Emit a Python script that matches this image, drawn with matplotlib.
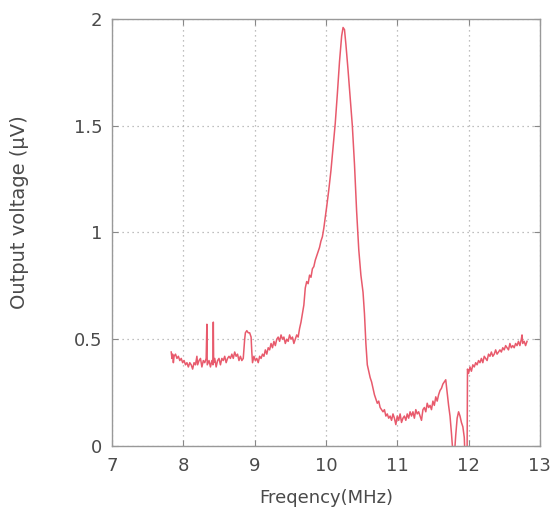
import matplotlib.pyplot as plt
from matplotlib.ticker import FuncFormatter

plt.rcParams['font.family'] = ['DejaVu Sans']

# Spectrum readings (MHz, uV)
freq = [7.83, 7.84, 7.85, 7.86, 7.87, 7.89, 7.91, 7.93, 7.95, 7.97, 7.99,
        8.01, 8.03, 8.05, 8.07, 8.09, 8.11, 8.13, 8.15, 8.17, 8.19, 8.20,
        8.22, 8.24, 8.26, 8.28, 8.30, 8.32, 8.33, 8.335, 8.36, 8.38, 8.40,
        8.415, 8.42, 8.425, 8.44, 8.46, 8.48, 8.50, 8.52, 8.54, 8.56, 8.58,
        8.60, 8.62, 8.64, 8.66, 8.68, 8.70, 8.72, 8.74, 8.76, 8.78, 8.80,
        8.82, 8.84, 8.86, 8.87, 8.89, 8.91, 8.93, 8.95, 8.96, 8.97, 8.99,
        9.01, 9.03, 9.05, 9.07, 9.09, 9.11, 9.13, 9.15, 9.17, 9.19, 9.21,
        9.23, 9.25, 9.27, 9.29, 9.31, 9.33, 9.35, 9.37, 9.39, 9.41, 9.43,
        9.45, 9.47, 9.49, 9.51, 9.53, 9.55, 9.57, 9.59, 9.61, 9.63, 9.65,
        9.67, 9.69, 9.71, 9.73, 9.75, 9.77, 9.79, 9.81, 9.83, 9.85, 9.87,
        9.89, 9.91, 9.93, 9.95, 9.97, 9.99, 10.01, 10.04, 10.07, 10.10,
        10.13, 10.16, 10.19, 10.22, 10.24, 10.26, 10.28, 10.31, 10.34,
        10.37, 10.40, 10.43, 10.46, 10.49, 10.52, 10.54, 10.56, 10.58,
        10.60, 10.62, 10.64, 10.66, 10.68, 10.70, 10.72, 10.74, 10.76,
        10.78, 10.80, 10.82, 10.84, 10.86, 10.88, 10.90, 10.92, 10.94,
        10.96, 10.98, 11.00, 11.02, 11.04, 11.06, 11.08, 11.10, 11.12,
        11.14, 11.16, 11.18, 11.20, 11.22, 11.24, 11.26, 11.28, 11.30,
        11.32, 11.34, 11.36, 11.38, 11.40, 11.42, 11.44, 11.46, 11.48,
        11.50, 11.52, 11.54, 11.56, 11.58, 11.60, 11.62, 11.64, 11.66,
        11.68, 11.70, 11.72, 11.74, 11.76, 11.78, 11.80, 11.82, 11.84,
        11.86, 11.88, 11.90, 11.92, 11.94, 11.95, 11.97, 11.98, 11.985,
        12.00, 12.02, 12.04, 12.06, 12.08, 12.10, 12.12, 12.14, 12.16,
        12.18, 12.20, 12.22, 12.24, 12.26, 12.28, 12.30, 12.32, 12.34,
        12.36, 12.38, 12.40, 12.42, 12.44, 12.46, 12.48, 12.50, 12.52,
        12.54, 12.56, 12.58, 12.60, 12.62, 12.64, 12.66, 12.68, 12.70,
        12.72, 12.74, 12.75, 12.76, 12.78, 12.80, 12.82]

volt = [0.44, 0.41, 0.43, 0.39, 0.42, 0.43, 0.41, 0.42, 0.40, 0.41, 0.39,
        0.40, 0.38, 0.39, 0.37, 0.39, 0.38, 0.36, 0.39, 0.38, 0.42, 0.38,
        0.40, 0.41, 0.37, 0.40, 0.39, 0.41, 0.57, 0.38, 0.40, 0.37, 0.40,
        0.38, 0.58, 0.39, 0.41, 0.37, 0.40, 0.41, 0.38, 0.41, 0.40, 0.42,
        0.39, 0.41, 0.42, 0.41, 0.43, 0.41, 0.44, 0.42, 0.43, 0.40, 0.42,
        0.40, 0.41, 0.50, 0.53, 0.54, 0.53, 0.53, 0.51, 0.44, 0.39, 0.42,
        0.40, 0.41, 0.39, 0.42, 0.41, 0.43, 0.42, 0.45, 0.43, 0.46, 0.45,
        0.48, 0.46, 0.49, 0.47, 0.50, 0.51, 0.49, 0.52, 0.50, 0.51, 0.48,
        0.50, 0.49, 0.52, 0.50, 0.51, 0.48, 0.50, 0.52, 0.51, 0.55, 0.58,
        0.62, 0.66, 0.74, 0.77, 0.76, 0.80, 0.79, 0.83, 0.84, 0.87, 0.89,
        0.91, 0.93, 0.96, 0.98, 1.02, 1.07, 1.12, 1.20, 1.29, 1.40,
        1.51, 1.65, 1.80, 1.92, 1.96, 1.95, 1.88, 1.76, 1.63,
        1.50, 1.32, 1.10, 0.92, 0.80, 0.72, 0.62, 0.48, 0.38,
        0.35, 0.32, 0.30, 0.27, 0.24, 0.22, 0.20, 0.21, 0.18,
        0.17, 0.16, 0.17, 0.14, 0.15, 0.13, 0.14, 0.12, 0.15,
        0.13, 0.10, 0.14, 0.12, 0.15, 0.11, 0.13, 0.14, 0.12,
        0.15, 0.13, 0.16, 0.14, 0.16, 0.13, 0.17, 0.15, 0.16,
        0.14, 0.12, 0.17, 0.18, 0.16, 0.20, 0.18, 0.19, 0.17,
        0.21, 0.19, 0.23, 0.21, 0.24, 0.26, 0.27, 0.29, 0.30,
        0.31, 0.25, 0.19, 0.14, 0.06, -0.03, -0.05, 0.05, 0.13,
        0.16, 0.14, 0.11, 0.09, 0.04, -0.05, -0.05, 0.0, 0.36,
        0.34, 0.37, 0.35, 0.38, 0.37, 0.39, 0.38, 0.40, 0.39,
        0.41, 0.39, 0.42, 0.41, 0.40, 0.43, 0.42, 0.44, 0.42,
        0.43, 0.45, 0.43, 0.44, 0.45, 0.44, 0.46, 0.45, 0.47,
        0.46, 0.45, 0.48, 0.46, 0.47, 0.46, 0.48, 0.47, 0.49,
        0.47, 0.50, 0.52, 0.48, 0.49, 0.47, 0.49]

x_ticks = [7, 8, 9, 10, 11, 12, 13]
y_ticks = [0, 0.5, 1, 1.5, 2]

txt = '#4a4a4a'
fig = plt.figure(figsize=(5.52, 5.12), dpi=100)
ax = fig.add_axes([0.203, 0.129, 0.775, 0.834])

ax.plot(freq, volt, color='#e85a6c', lw=1.1)

ax.set_xlim(7, 13)
ax.set_ylim(0, 2)
ax.set_xticks(x_ticks)
ax.set_yticks(y_ticks)
ax.yaxis.set_major_formatter(FuncFormatter(lambda v, p: f'{v:g}'))
ax.grid(True, ls=(0, (1, 3)), color='#aaaaaa', lw=0.9)
ax.tick_params(direction='in', top=True, right=True, length=4,
               color='#888888', labelsize=13, labelcolor=txt)
ax.tick_params(axis='y', pad=7)
ax.tick_params(axis='x', pad=8)
for s in ax.spines.values():
    s.set_color('#999999')
    s.set_linewidth(1.0)

ax.set_xlabel('Freqency(MHz)', fontsize=13, color=txt)
ax.set_ylabel('Output voltage (μV)', fontsize=14, color=txt)
ax.xaxis.set_label_coords(0.5, -0.10)
ax.yaxis.set_label_coords(-0.195, 0.548)

fig.savefig('out.png', dpi=100)
